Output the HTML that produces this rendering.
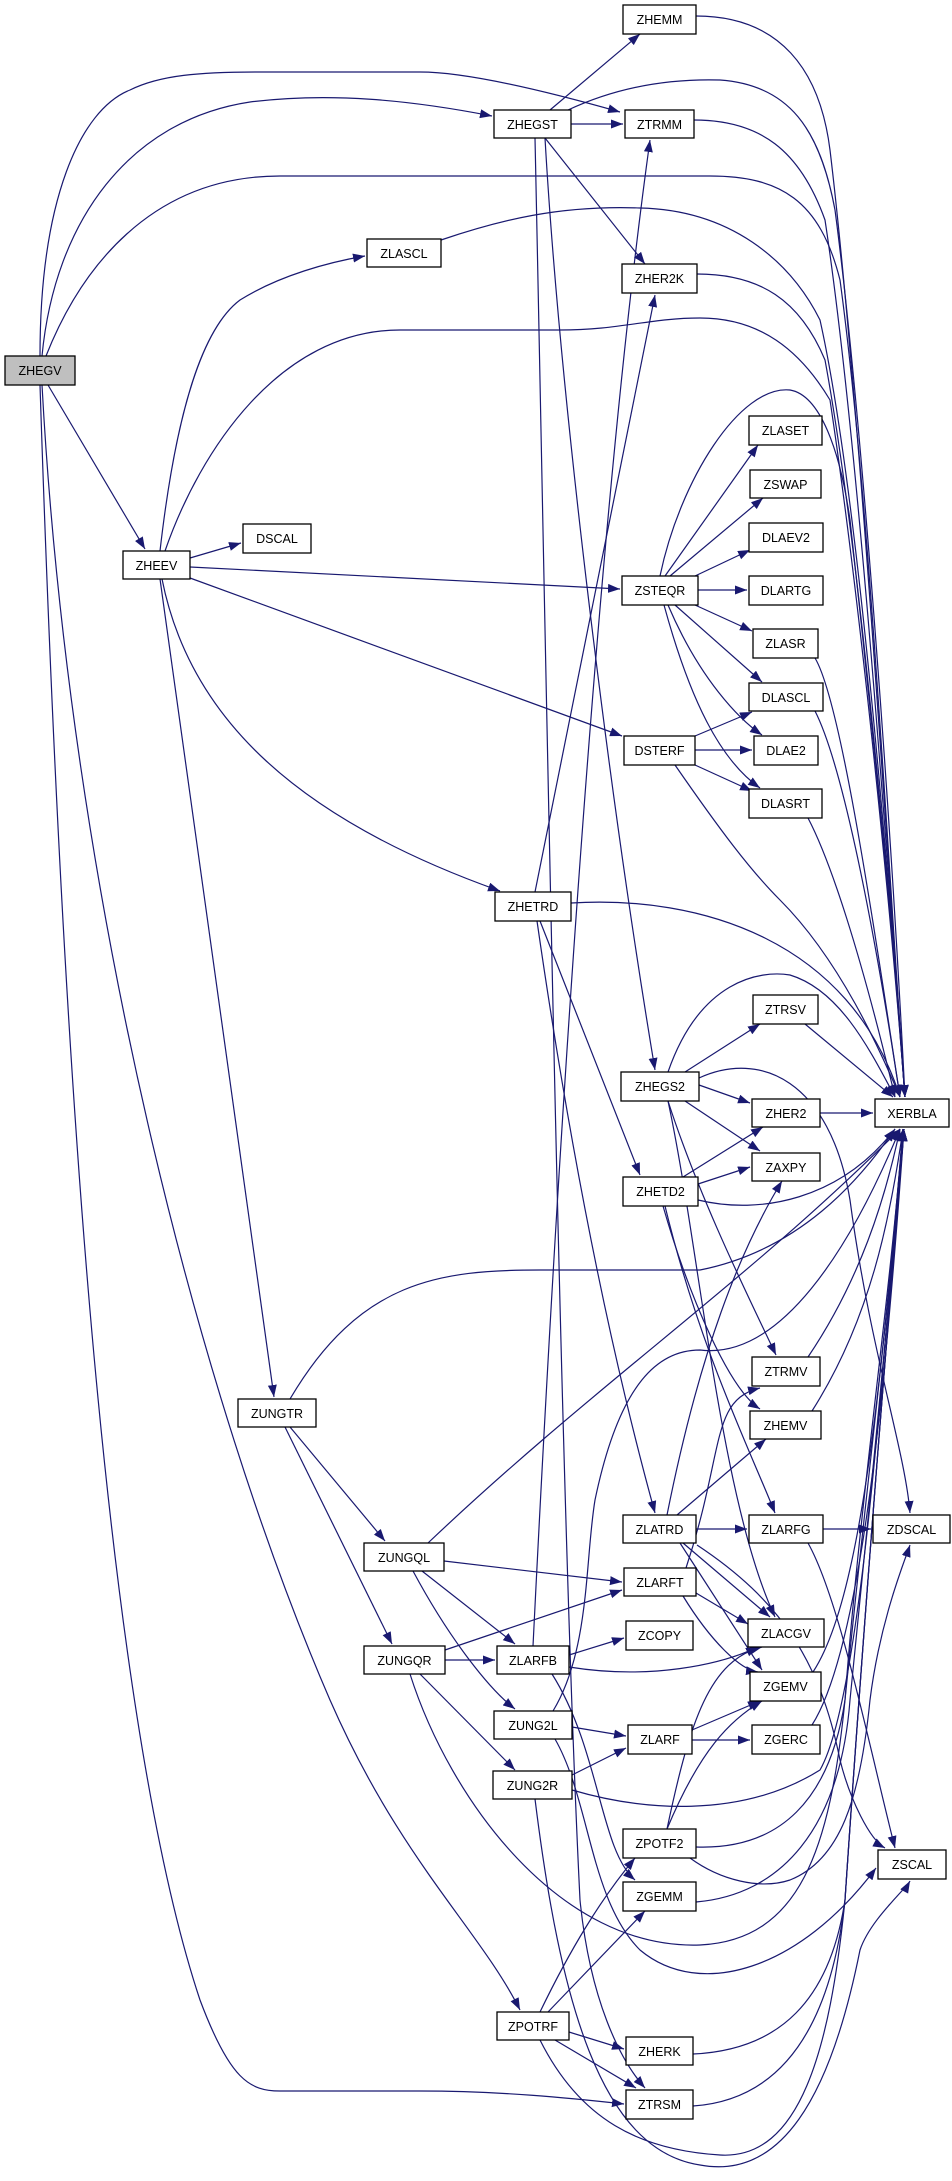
<!DOCTYPE html>
<html><head><meta charset="utf-8"><style>
html,body{margin:0;padding:0;background:#fff;}
svg{display:block;}
.e{fill:none;stroke:#191970;stroke-width:1.2;marker-end:url(#a);}
.n{fill:#fff;stroke:#000;stroke-width:1.3;}
.s{fill:#999;}
text{font-family:"Liberation Sans",sans-serif;font-size:12.5px;fill:#000;text-anchor:middle;}
</style></head><body>
<svg width="952" height="2181" viewBox="0 0 952 2181" xmlns="http://www.w3.org/2000/svg">
<defs><marker id="a" markerUnits="userSpaceOnUse" markerWidth="13" markerHeight="10" refX="12" refY="4.5" orient="auto"><path d="M0,0 L12,4.5 L0,9 z" fill="#191970"/></marker></defs>
<g>
<path class="e" d="M40,356 C40,200 80,110 130,90 C160,75 200,72 260,72 L420,72 C470,72 560,95 620,112"/>
<path class="e" d="M42,356 C55,220 130,120 250,102 C330,92 410,100 492,116"/>
<path class="e" d="M46,356 C80,270 150,176 280,176 L710,176 C780,176 820,200 840,280 C870,500 890,900 905,1097"/>
<path class="e" d="M48,385 L145,549"/>
<path class="e" d="M42,385 C70,900 200,1400 330,1700 C400,1860 480,1930 520,2010"/>
<path class="e" d="M40,385 C60,1000 100,1700 200,2000 C230,2080 250,2091 280,2091 L420,2091 C500,2091 570,2098 624,2104"/>
<path class="e" d="M550,110 L640,34"/>
<path class="e" d="M571,124 L623,124"/>
<path class="e" d="M568,110 C600,95 650,78 720,80 C790,85 820,130 835,210 C860,400 890,800 905,1097"/>
<path class="e" d="M545,138 L645,264"/>
<path class="e" d="M545,138 C560,400 610,800 655,1070"/>
<path class="e" d="M535,138 C545,600 560,1500 580,1900 C590,2000 620,2060 645,2088"/>
<path class="e" d="M190,558 L241,543"/>
<path class="e" d="M160,551 C175,420 200,330 240,300 C280,275 330,262 365,256"/>
<path class="e" d="M165,551 C200,450 280,330 400,330 L560,330 C620,330 650,318 700,318 C760,318 800,350 830,400 C860,600 890,900 905,1097"/>
<path class="e" d="M441,240 C500,220 560,205 640,208 C730,210 790,260 820,320 C860,500 890,900 905,1097"/>
<path class="e" d="M696,16 C780,16 820,70 830,150 C860,400 890,900 905,1097"/>
<path class="e" d="M694,120 C760,120 800,150 825,220 C860,450 890,900 905,1097"/>
<path class="e" d="M697,274 C760,274 800,300 825,360 C860,550 890,900 905,1097"/>
<path class="e" d="M190,567 L620,589"/>
<path class="e" d="M190,578 L622,736"/>
<path class="e" d="M162,579 C190,720 300,820 500,891"/>
<path class="e" d="M160,579 L274,1397"/>
<path class="e" d="M665,576 L758,445"/>
<path class="e" d="M670,576 L763,498"/>
<path class="e" d="M695,576 L750,550"/>
<path class="e" d="M698,590 L747,590"/>
<path class="e" d="M695,605 L752,631"/>
<path class="e" d="M675,605 L762,682"/>
<path class="e" d="M668,605 C700,680 740,720 762,735"/>
<path class="e" d="M664,605 C690,700 720,760 760,788"/>
<path class="e" d="M660,576 C680,480 740,385 790,390 C820,395 840,450 850,520 C870,700 895,950 905,1097"/>
<path class="e" d="M695,736 L752,712"/>
<path class="e" d="M695,750 L752,750"/>
<path class="e" d="M695,765 L752,791"/>
<path class="e" d="M675,765 C720,830 750,870 780,900 C840,960 880,1050 900,1097"/>
<path class="e" d="M815,658 C840,700 870,900 900,1097"/>
<path class="e" d="M815,711 C840,760 870,900 900,1097"/>
<path class="e" d="M808,818 C830,860 860,950 895,1097"/>
<path class="e" d="M571,903 C700,895 850,940 900,1097"/>
<path class="e" d="M535,892 L655,295"/>
<path class="e" d="M540,921 L640,1175"/>
<path class="e" d="M537,921 C570,1150 610,1350 655,1513"/>
<path class="e" d="M533,1646 C560,1100 600,500 650,140"/>
<path class="e" d="M685,1072 L760,1024"/>
<path class="e" d="M699,1085 L750,1103"/>
<path class="e" d="M685,1101 L760,1151"/>
<path class="e" d="M668,1072 C700,980 760,970 790,975 C840,990 870,1050 895,1097"/>
<path class="e" d="M668,1101 C700,1200 750,1300 776,1355"/>
<path class="e" d="M668,1101 C700,1250 720,1500 775,1617"/>
<path class="e" d="M699,1078 C760,1050 830,1080 850,1200 C870,1350 905,1450 910,1513"/>
<path class="e" d="M805,1024 L893,1097"/>
<path class="e" d="M820,1113 L873,1113"/>
<path class="e" d="M683,1177 L763,1127"/>
<path class="e" d="M698,1184 L750,1167"/>
<path class="e" d="M698,1200 C760,1215 840,1200 895,1129"/>
<path class="e" d="M663,1206 C690,1300 730,1390 760,1409"/>
<path class="e" d="M665,1206 C700,1350 750,1450 775,1513"/>
<path class="e" d="M808,1357 C860,1280 885,1200 900,1129"/>
<path class="e" d="M812,1411 C870,1320 890,1220 903,1129"/>
<path class="e" d="M290,1399 C360,1280 440,1270 540,1270 L700,1270 C800,1250 860,1180 895,1129"/>
<path class="e" d="M290,1427 L385,1541"/>
<path class="e" d="M285,1427 L392,1644"/>
<path class="e" d="M428,1543 C600,1380 750,1280 900,1129"/>
<path class="e" d="M444,1561 L622,1582"/>
<path class="e" d="M422,1571 L515,1644"/>
<path class="e" d="M413,1571 C450,1640 490,1690 515,1709"/>
<path class="e" d="M667,1515 C700,1350 740,1250 782,1181"/>
<path class="e" d="M677,1515 L766,1439"/>
<path class="e" d="M696,1529 L747,1529"/>
<path class="e" d="M683,1543 L770,1617"/>
<path class="e" d="M680,1543 L762,1670"/>
<path class="e" d="M697,1545 C780,1600 820,1660 840,1760 C850,1800 870,1840 885,1848"/>
<path class="e" d="M823,1529 L871,1529"/>
<path class="e" d="M808,1543 C840,1600 870,1750 895,1848"/>
<path class="e" d="M686,1568 C725,1450 710,1400 760,1388"/>
<path class="e" d="M696,1593 L748,1624"/>
<path class="e" d="M683,1596 C710,1640 740,1670 758,1672"/>
<path class="e" d="M445,1650 L622,1590"/>
<path class="e" d="M445,1660 L495,1660"/>
<path class="e" d="M420,1674 L515,1770"/>
<path class="e" d="M410,1674 C450,1800 560,1950 700,1945 C800,1940 830,1850 845,1700 C860,1500 890,1300 903,1129"/>
<path class="e" d="M569,1655 L624,1638"/>
<path class="e" d="M569,1667 C650,1680 720,1665 758,1647"/>
<path class="e" d="M552,1674 C600,1750 600,1850 635,1880"/>
<path class="e" d="M572,1727 L626,1736"/>
<path class="e" d="M553,1711 C590,1650 585,1560 595,1500 C620,1380 660,1350 700,1350 C780,1360 850,1250 900,1129"/>
<path class="e" d="M555,1739 C590,1800 590,1900 640,1950 C700,2000 800,1970 876,1868"/>
<path class="e" d="M572,1775 L626,1748"/>
<path class="e" d="M572,1790 C640,1810 740,1820 820,1770 C860,1700 880,1400 903,1129"/>
<path class="e" d="M535,1799 C560,2000 600,2150 700,2165 C780,2180 830,2100 860,1950 C870,1920 905,1890 910,1881"/>
<path class="e" d="M692,1730 L760,1701"/>
<path class="e" d="M692,1740 L750,1740"/>
<path class="e" d="M813,1672 C860,1600 880,1400 903,1129"/>
<path class="e" d="M812,1725 C860,1650 885,1400 904,1129"/>
<path class="e" d="M667,1829 C700,1750 730,1720 762,1701"/>
<path class="e" d="M667,1829 C690,1720 710,1660 762,1647"/>
<path class="e" d="M696,1847 C780,1850 830,1800 845,1700 C865,1500 890,1300 904,1129"/>
<path class="e" d="M690,1858 C720,1880 760,1890 790,1880 C840,1860 860,1800 870,1700 C880,1620 905,1560 910,1545"/>
<path class="e" d="M696,1902 C780,1895 840,1830 850,1700 C870,1500 890,1300 904,1129"/>
<path class="e" d="M540,2012 C570,1950 600,1900 635,1858"/>
<path class="e" d="M548,2012 L645,1911"/>
<path class="e" d="M569,2032 L624,2049"/>
<path class="e" d="M555,2040 L636,2088"/>
<path class="e" d="M540,2040 C580,2120 640,2150 720,2155 C800,2160 830,2050 845,1900 C865,1600 890,1300 904,1129"/>
<path class="e" d="M693,2054 C780,2050 830,2000 845,1900 C865,1600 890,1300 904,1129"/>
<path class="e" d="M693,2106 C780,2100 830,2030 845,1900 C865,1600 890,1300 904,1129"/>
</g>
<g>
<rect class="n" x="5" y="356" width="70" height="29" style="fill:#bfbfbf"/><text x="40" y="375">ZHEGV</text>
<rect class="n" x="623" y="5" width="73" height="29"/><text x="659.5" y="24">ZHEMM</text>
<rect class="n" x="494" y="110" width="77" height="28"/><text x="532.5" y="129">ZHEGST</text>
<rect class="n" x="625" y="110" width="69" height="28"/><text x="659.5" y="129">ZTRMM</text>
<rect class="n" x="367" y="239" width="74" height="28"/><text x="404" y="258">ZLASCL</text>
<rect class="n" x="622" y="264" width="75" height="29"/><text x="659.5" y="283">ZHER2K</text>
<rect class="n" x="749" y="416" width="73" height="29"/><text x="785.5" y="435">ZLASET</text>
<rect class="n" x="750" y="470" width="71" height="28"/><text x="785.5" y="489">ZSWAP</text>
<rect class="n" x="749" y="523" width="74" height="29"/><text x="786" y="542">DLAEV2</text>
<rect class="n" x="243" y="524" width="68" height="29"/><text x="277" y="543">DSCAL</text>
<rect class="n" x="123" y="551" width="67" height="28"/><text x="156.5" y="570">ZHEEV</text>
<rect class="n" x="622" y="576" width="76" height="29"/><text x="660" y="595">ZSTEQR</text>
<rect class="n" x="749" y="576" width="74" height="29"/><text x="786" y="595">DLARTG</text>
<rect class="n" x="753" y="629" width="65" height="29"/><text x="785.5" y="648">ZLASR</text>
<rect class="n" x="749" y="683" width="74" height="28"/><text x="786" y="702">DLASCL</text>
<rect class="n" x="624" y="736" width="71" height="29"/><text x="659.5" y="755">DSTERF</text>
<rect class="n" x="754" y="736" width="64" height="29"/><text x="786" y="755">DLAE2</text>
<rect class="n" x="749" y="789" width="73" height="29"/><text x="785.5" y="808">DLASRT</text>
<rect class="n" x="495" y="892" width="76" height="29"/><text x="533" y="911">ZHETRD</text>
<rect class="n" x="753" y="995" width="65" height="29"/><text x="785.5" y="1014">ZTRSV</text>
<rect class="n" x="621" y="1072" width="78" height="29"/><text x="660" y="1091">ZHEGS2</text>
<rect class="n" x="875" y="1099" width="74" height="28"/><text x="912" y="1118">XERBLA</text>
<rect class="n" x="752" y="1099" width="68" height="28"/><text x="786" y="1118">ZHER2</text>
<rect class="n" x="752" y="1153" width="68" height="28"/><text x="786" y="1172">ZAXPY</text>
<rect class="n" x="623" y="1177" width="75" height="29"/><text x="660.5" y="1196">ZHETD2</text>
<rect class="n" x="752" y="1357" width="68" height="29"/><text x="786" y="1376">ZTRMV</text>
<rect class="n" x="750" y="1411" width="71" height="28"/><text x="785.5" y="1430">ZHEMV</text>
<rect class="n" x="238" y="1399" width="78" height="28"/><text x="277" y="1418">ZUNGTR</text>
<rect class="n" x="623" y="1515" width="73" height="28"/><text x="659.5" y="1534">ZLATRD</text>
<rect class="n" x="749" y="1515" width="74" height="28"/><text x="786" y="1534">ZLARFG</text>
<rect class="n" x="873" y="1515" width="77" height="28"/><text x="911.5" y="1534">ZDSCAL</text>
<rect class="n" x="364" y="1543" width="80" height="28"/><text x="404" y="1562">ZUNGQL</text>
<rect class="n" x="624" y="1568" width="72" height="28"/><text x="660" y="1587">ZLARFT</text>
<rect class="n" x="626" y="1621" width="67" height="29"/><text x="659.5" y="1640">ZCOPY</text>
<rect class="n" x="748" y="1619" width="76" height="28"/><text x="786" y="1638">ZLACGV</text>
<rect class="n" x="364" y="1646" width="81" height="28"/><text x="404.5" y="1665">ZUNGQR</text>
<rect class="n" x="497" y="1646" width="72" height="28"/><text x="533" y="1665">ZLARFB</text>
<rect class="n" x="750" y="1672" width="71" height="29"/><text x="785.5" y="1691">ZGEMV</text>
<rect class="n" x="494" y="1711" width="78" height="28"/><text x="533" y="1730">ZUNG2L</text>
<rect class="n" x="628" y="1725" width="64" height="29"/><text x="660" y="1744">ZLARF</text>
<rect class="n" x="752" y="1725" width="68" height="29"/><text x="786" y="1744">ZGERC</text>
<rect class="n" x="493" y="1771" width="79" height="28"/><text x="532.5" y="1790">ZUNG2R</text>
<rect class="n" x="623" y="1829" width="73" height="29"/><text x="659.5" y="1848">ZPOTF2</text>
<rect class="n" x="878" y="1850" width="68" height="29"/><text x="912" y="1869">ZSCAL</text>
<rect class="n" x="623" y="1882" width="73" height="29"/><text x="659.5" y="1901">ZGEMM</text>
<rect class="n" x="497" y="2012" width="72" height="28"/><text x="533" y="2031">ZPOTRF</text>
<rect class="n" x="626" y="2037" width="67" height="28"/><text x="659.5" y="2056">ZHERK</text>
<rect class="n" x="626" y="2090" width="67" height="29"/><text x="659.5" y="2109">ZTRSM</text>
</g>
</svg>
</body></html>
